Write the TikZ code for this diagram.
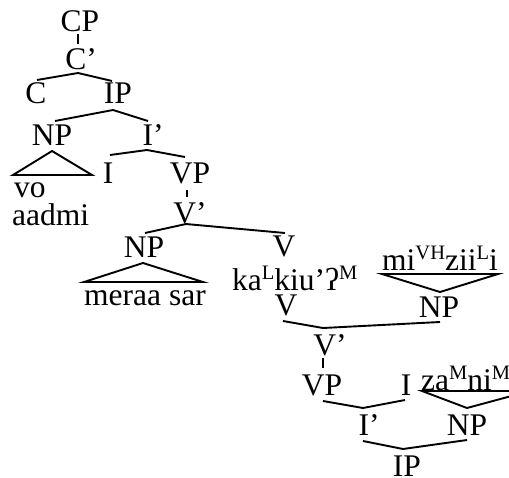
\documentclass[tikz,border=0pt]{standalone}
\usepackage{fontspec}
\setmainfont{Liberation Serif}
\newcommand\supr[1]{\raisebox{0.33em}{\fontsize{20.5}{20.5}\selectfont #1}}
\begin{document}
\begin{tikzpicture}[x=1pt,y=-1pt,
  lab/.style={inner sep=0pt,anchor=base,font=\fontsize{31.5}{31.5}\selectfont},
  labw/.style={lab,anchor=base west},
  edge/.style={line width=1.9pt,line join=miter}]
\useasboundingbox (0,0) rectangle (509,477);

% upper tree
\node[lab]  (CP)  at (80,31)  {CP};
\node[lab]  (Cb)  at (81,69)  {C’};
\node[lab]  (C)   at (36,103) {C};
\node[lab]  (IP)  at (118,103) {IP};
\node[lab]  (NPa) at (52,145) {NP};
\node[lab]  (Ib)  at (153,145) {I’};
\node[labw] (vo)  at (14,197) {vo};
\node[labw] (aad) at (12,225) {aadmi};
\node[lab]  (Ia)  at (108,183) {I};
\node[lab]  (VP)  at (190,183) {VP};
\node[lab]  (Vb)  at (190,223) {V’};
\node[lab]  (NPb) at (144,257) {NP};
\node[lab]  (Va)  at (284,256) {V};
\node[labw] (mer) at (84,305) {meraa sar};
\node[labw] (ka)  at (232,290) {ka\supr{L}kiu’ʔ\supr{M}};

% lower (inverted) tree
\node[labw] (mi)  at (382,270) {mi\supr{VH}zii\supr{L}i};
\node[lab]  (NPc) at (439,317) {NP};
\node[lab]  (Vc)  at (286,315) {V};
\node[lab]  (Vd)  at (330,355) {V’};
\node[lab]  (VPb) at (322,395) {VP};
\node[lab]  (Ic)  at (406,395) {I};
\node[labw] (za)  at (421,390) {za\supr{M}ni\supr{M}};
\node[lab]  (Ie)  at (369,435) {I’};
\node[lab]  (NPd) at (467,435) {NP};
\node[lab]  (IPb) at (407,476) {IP};

% triangle corners
\coordinate (ta1) at (13,175);
\coordinate (ta2) at (92,175);
\coordinate (tb1) at (84,282);
\coordinate (tb2) at (203,282);
\coordinate (tc1) at (382,274);
\coordinate (tc2) at (498,274);
\coordinate (td1) at (422,391);
\coordinate (td2) at (530,391);

% branches of the upper tree
\draw[edge] ([shift={(-2,3)}]CP.base) -- ([shift={(-3,-25)}]Cb.base);
\draw[edge] ([shift={(1,-23)}]C.base) -- ([shift={(-3,4)}]Cb.base) -- ([shift={(-6,-22)}]IP.base);
\draw[edge] ([shift={(3,-24)}]NPa.base) -- ([shift={(-5,7)}]IP.base) -- ([shift={(-5,-24)}]Ib.base);
\draw[edge] ([shift={(2,-28)}]Ia.base) -- ([shift={(-6,5)}]Ib.base) -- ([shift={(-5,-26)}]VP.base);
\draw[edge] ([shift={(-3,7)}]VP.base) -- ([shift={(-3,-26)}]Vb.base);
\draw[edge] ([shift={(1,-24)}]NPb.base) -- ([shift={(-4,1)}]Vb.base) -- ([shift={(1,-23)}]Va.base);

% triangles
\draw[edge] (ta1) -- ([shift={(0,6)}]NPa.base) -- (ta2) -- cycle;
\draw[edge] (tb1) -- ([shift={(-1,6)}]NPb.base) -- (tb2) -- cycle;
\draw[edge] (tc1) -- ([shift={(1,-25)}]NPc.base) -- (tc2) -- cycle;
\draw[edge] (td1) -- ([shift={(0,-27)}]NPd.base) -- (td2) -- cycle;

% branches of the lower tree
\draw[edge] ([shift={(-3,6)}]Vc.base) -- ([shift={(-7,-27)}]Vd.base) -- ([shift={(1,5)}]NPc.base);
\draw[edge] ([shift={(-7,3)}]Vd.base) -- ([shift={(1,-27)}]VPb.base);
\draw[edge] ([shift={(1,6)}]VPb.base) -- ([shift={(-6,-27)}]Ie.base) -- ([shift={(-1,5)}]Ic.base);
\draw[edge] ([shift={(-6,6)}]Ie.base) -- ([shift={(-4,-27)}]IPb.base) -- ([shift={(0,5)}]NPd.base);
\end{tikzpicture}
\end{document}
